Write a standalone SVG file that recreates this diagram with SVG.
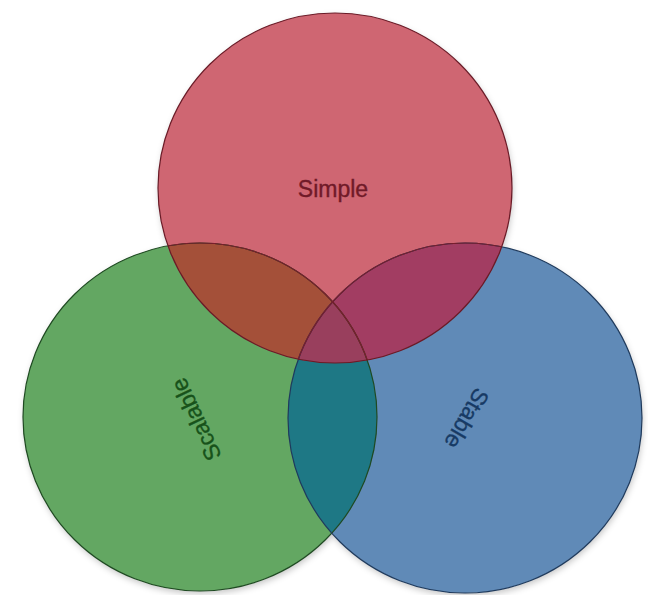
<svg xmlns="http://www.w3.org/2000/svg" width="648" height="595" viewBox="0 0 648 595">
  <style>
    .lbl { font-family: "Liberation Sans", Arial, sans-serif; font-size: 23px; text-anchor: middle; stroke-width: 0.35; }
    .outline { fill: none; stroke-width: 1.2; }
  </style>
  <defs>
    <filter id="sh" x="-10%" y="-10%" width="120%" height="120%">
      <feDropShadow dx="1" dy="3" stdDeviation="3" flood-color="#000" flood-opacity="0.22"/>
    </filter>
    <ellipse id="eG" cx="200" cy="417" rx="177" ry="174"/>
    <ellipse id="eB" cx="465" cy="418" rx="177" ry="175"/>
    <ellipse id="eR" cx="335" cy="188" rx="177" ry="175"/>
    <clipPath id="clipG"><use href="#eG"/></clipPath>
    <clipPath id="clipB"><use href="#eB"/></clipPath>
    <clipPath id="clipR"><use href="#eR"/></clipPath>
  </defs>
  <rect width="648" height="595" fill="#ffffff"/>

  <g id="shadows" filter="url(#sh)" fill="#ffffff">
    <use href="#eG"/>
    <use href="#eB"/>
    <use href="#eR"/>
  </g>

  <g id="scalable">
    <use href="#eG" fill="#63a762"/>
    <text class="lbl" fill="#17521a" stroke="#17521a" transform="translate(197,419) rotate(-115)" y="7">Scalable</text>
  </g>

  <g id="stable">
    <use href="#eB" fill="#608ab7"/>
    <text class="lbl" fill="#173a64" stroke="#173a64" transform="translate(466,418) rotate(120)" y="7">Stable</text>
  </g>

  <g id="overlap-green-blue" clip-path="url(#clipG)">
    <use href="#eB" fill="#1e7885"/>
  </g>

  <g id="simple">
    <use href="#eR" fill="#cf6672"/>
    <text class="lbl" fill="#701a28" stroke="#701a28" x="333" y="197">Simple</text>
  </g>

  <g id="overlaps" clip-path="url(#clipR)">
    <use href="#eG" fill="#a45039"/>
    <use href="#eB" fill="#a23d62"/>
    <g clip-path="url(#clipG)">
      <use href="#eB" fill="#993f5d"/>
    </g>
  </g>

  <g id="outlines">
    <use href="#eG" class="outline" stroke="#1f4a22"/>
    <use href="#eB" class="outline" stroke="#1f3a5c"/>
    <g clip-path="url(#clipR)">
      <use href="#eG" class="outline" stroke="#7a1d2c"/>
      <use href="#eB" class="outline" stroke="#7a1d2c"/>
    </g>
    <use href="#eR" class="outline" stroke="#6a1b27"/>
  </g>
</svg>
